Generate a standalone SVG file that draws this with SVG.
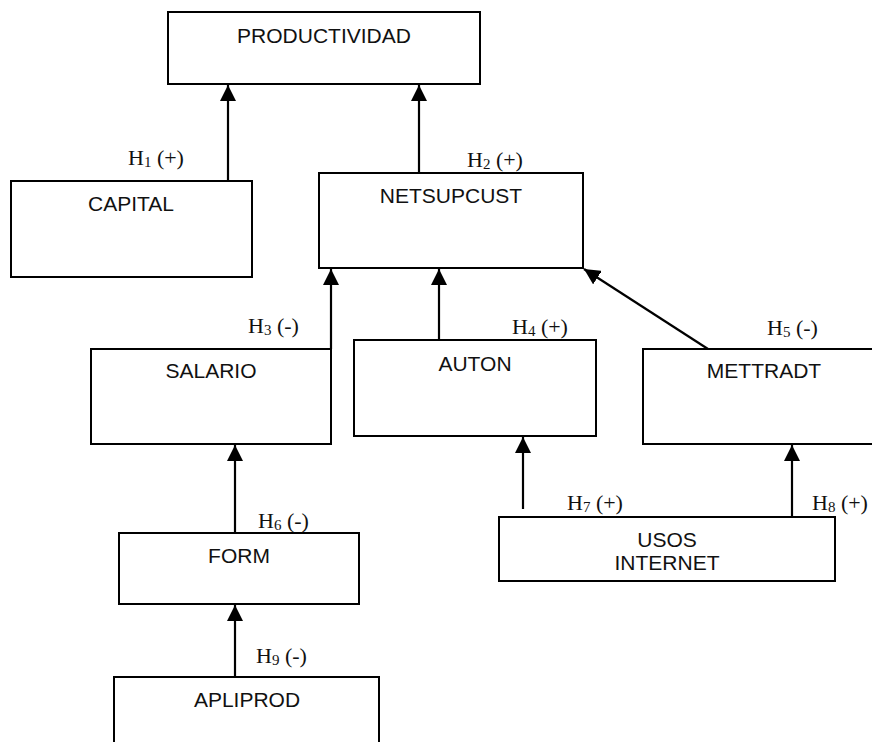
<svg xmlns="http://www.w3.org/2000/svg" width="872" height="742" viewBox="0 0 872 742">
  <style>
    .box { fill: #ffffff; stroke: #000000; stroke-width: 2; }
    .lbl { font-family: "Liberation Sans", Arial, sans-serif; font-size: 21px; fill: #111111; text-anchor: middle; }
    .hyp { font-family: "Liberation Serif", "DejaVu Serif", serif; font-size: 22px; fill: #111111; }
    .sub { font-size: 15px; }
    .edge { fill: none; stroke: #000000; stroke-width: 2.2; marker-end: url(#arrow); }
  </style>
  <defs>
    <marker id="arrow" viewBox="0 0 16 16" refX="16" refY="8" markerWidth="16" markerHeight="16" markerUnits="userSpaceOnUse" orient="auto">
      <path d="M0,0 L16,8 L0,16 Z" fill="#000000"/>
    </marker>
  </defs>

  <rect width="872" height="742" fill="#ffffff"/>

  <g id="productividad">
    <rect class="box" x="168" y="12" width="312" height="72"/>
    <text class="lbl" x="324" y="43">PRODUCTIVIDAD</text>
  </g>

  <g id="capital">
    <rect class="box" x="11" y="181" width="241" height="96"/>
    <text class="lbl" x="131" y="211">CAPITAL</text>
  </g>

  <g id="netsupcust">
    <rect class="box" x="319" y="173" width="264" height="95"/>
    <text class="lbl" x="451" y="203">NETSUPCUST</text>
  </g>

  <g id="salario">
    <rect class="box" x="91" y="349" width="240" height="95"/>
    <text class="lbl" x="211" y="378">SALARIO</text>
  </g>

  <g id="auton">
    <rect class="box" x="354" y="340" width="242" height="96"/>
    <text class="lbl" x="475" y="371">AUTON</text>
  </g>

  <g id="mettradt">
    <rect class="box" x="643" y="349" width="242" height="95"/>
    <text class="lbl" x="764" y="378">METTRADT</text>
  </g>

  <g id="usos-internet">
    <rect class="box" x="499" y="517" width="336" height="64"/>
    <text class="lbl" x="667" y="547">USOS</text>
    <text class="lbl" x="667" y="570">INTERNET</text>
  </g>

  <g id="form">
    <rect class="box" x="119" y="533" width="240" height="71"/>
    <text class="lbl" x="239" y="563">FORM</text>
  </g>

  <g id="apliprod">
    <rect class="box" x="114" y="677" width="265" height="80"/>
    <text class="lbl" x="247" y="707">APLIPROD</text>
  </g>

  <g id="connectors">
    <line class="edge" x1="228" y1="181" x2="228" y2="85"/>
    <line class="edge" x1="419" y1="173" x2="419" y2="85"/>
    <line class="edge" x1="331" y1="349" x2="331" y2="269"/>
    <line class="edge" x1="439" y1="340" x2="439" y2="269"/>
    <line class="edge" x1="708" y1="349" x2="584" y2="269"/>
    <line class="edge" x1="235" y1="533" x2="235" y2="445"/>
    <line class="edge" x1="235" y1="677" x2="235" y2="605"/>
    <line class="edge" x1="523" y1="509" x2="523" y2="437"/>
    <line class="edge" x1="792" y1="517" x2="792" y2="445"/>
  </g>

  <g id="hypotheses">
    <text class="hyp" x="128" y="165">H<tspan class="sub" dy="2">1</tspan><tspan dy="-2"> (+)</tspan></text>
    <text class="hyp" x="467" y="167">H<tspan class="sub" dy="2">2</tspan><tspan dy="-2"> (+)</tspan></text>
    <text class="hyp" x="248" y="333">H<tspan class="sub" dy="2">3</tspan><tspan dy="-2"> (-)</tspan></text>
    <text class="hyp" x="512" y="334">H<tspan class="sub" dy="2">4</tspan><tspan dy="-2"> (+)</tspan></text>
    <text class="hyp" x="767" y="335">H<tspan class="sub" dy="2">5</tspan><tspan dy="-2"> (-)</tspan></text>
    <text class="hyp" x="258" y="528">H<tspan class="sub" dy="2">6</tspan><tspan dy="-2"> (-)</tspan></text>
    <text class="hyp" x="567" y="510">H<tspan class="sub" dy="2">7</tspan><tspan dy="-2"> (+)</tspan></text>
    <text class="hyp" x="812" y="510">H<tspan class="sub" dy="2">8</tspan><tspan dy="-2"> (+)</tspan></text>
    <text class="hyp" x="256" y="663">H<tspan class="sub" dy="2">9</tspan><tspan dy="-2"> (-)</tspan></text>
  </g>
</svg>
